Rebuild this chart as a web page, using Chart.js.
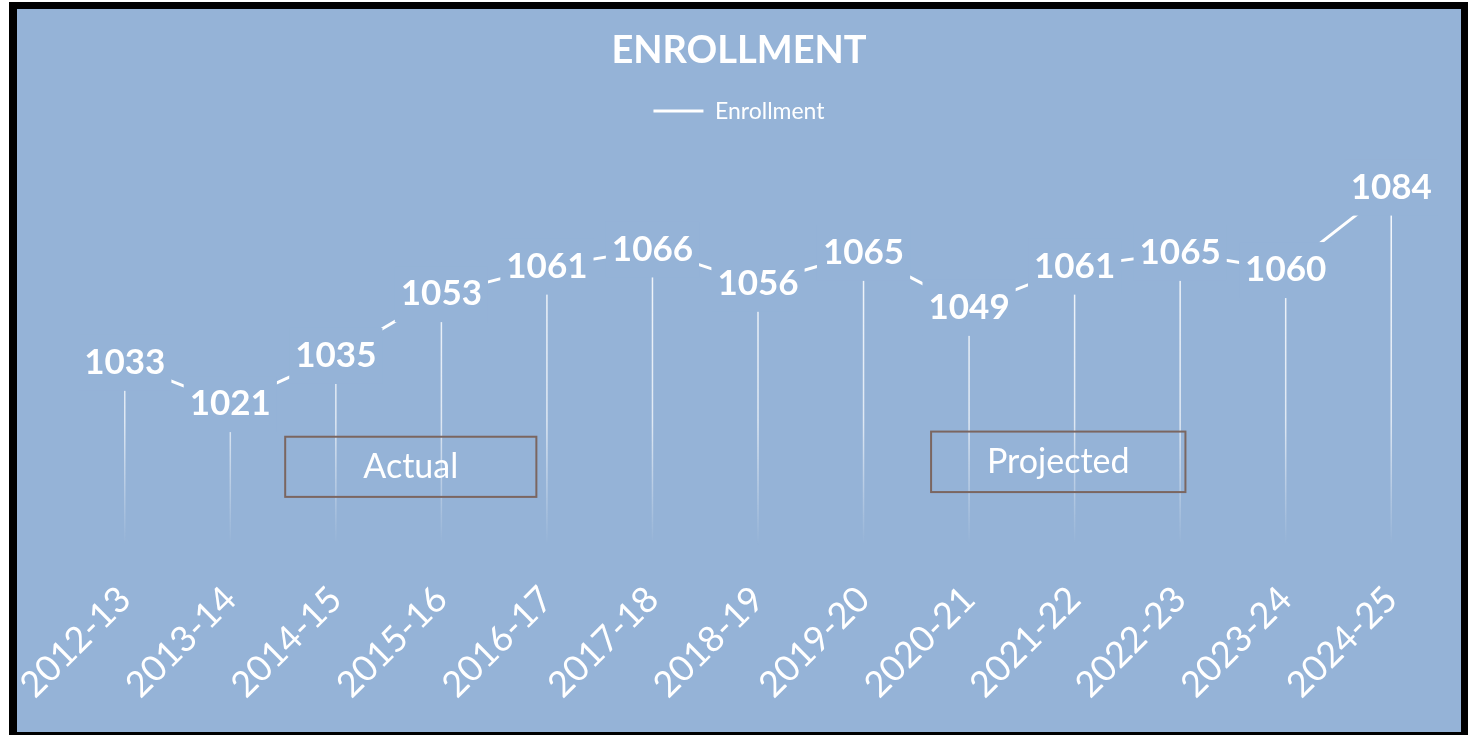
<!DOCTYPE html>
<html>
<head>
<meta charset="utf-8">
<script src="https://cdn.jsdelivr.net/npm/chart.js@4.4.1/dist/chart.umd.min.js"></script>
<style>
  body { margin: 0; background: #ffffff; }
  #frame {
    position: absolute; left: 9px; top: 2px;
    width: 1444px; height: 723px;
    border-style: solid; border-color: #000000;
    border-width: 7px 7px 3px 8px;
    background: #95b3d7;
  }
</style>
</head>
<body>
<div id="frame"><canvas id="enrollmentChart"></canvas></div>
<script>
// Enrollment by school year
const years = ['2012-13', '2013-14', '2014-15', '2015-16', '2016-17', '2017-18', '2018-19',
    '2019-20', '2020-21', '2021-22', '2022-23', '2023-24', '2024-25'];
const enrollment = [1033, 1021, 1035, 1053, 1061, 1066, 1056, 1065, 1049, 1061, 1065, 1060, 1084];
const valueMin = 980;
const valueMax = 1100;

const BG = '#95b3d7';
const FONT = 'Lato';

// Function drop lines from each point down to the axis
const dropLines = {
    id: 'dropLines',
    beforeDatasetsDraw(chart) {
        const { ctx, chartArea } = chart;
        const meta = chart.getDatasetMeta(0);
        const g = ctx.createLinearGradient(0, chartArea.top, 0, chartArea.bottom);
        g.addColorStop(0, 'rgba(255,255,255,1)');
        g.addColorStop(0.7, 'rgba(255,255,255,0.7)');
        g.addColorStop(1, 'rgba(255,255,255,0)');
        ctx.save();
        ctx.strokeStyle = g;
        ctx.lineWidth = 1.5;
        meta.data.forEach(function (pt) {
            ctx.beginPath();
            ctx.moveTo(pt.x, pt.y);
            ctx.lineTo(pt.x, chartArea.bottom);
            ctx.stroke();
        });
        ctx.restore();
    }
};

// Function value labels sitting on the points
const valueLabels = {
    id: 'valueLabels',
    afterDatasetsDraw(chart) {
        const { ctx } = chart;
        const meta = chart.getDatasetMeta(0);
        const values = chart.data.datasets[0].data;
        ctx.save();
        ctx.font = 'bold 35px ' + FONT;
        ctx.textAlign = 'center';
        ctx.textBaseline = 'middle';
        meta.data.forEach(function (pt, i) {
            const txt = String(values[i]);
            const w = ctx.measureText(txt).width;
            ctx.fillStyle = BG;
            ctx.fillRect(pt.x - w / 2 - 6, pt.y - 28, w + 12, 56);
            ctx.fillStyle = '#ffffff';
            ctx.fillText(txt, pt.x, pt.y);
        });
        ctx.restore();
    }
};

// Function Actual / Projected boxes
const periodBoxes = {
    id: 'periodBoxes',
    afterDatasetsDraw(chart, args, opts) {
        const { ctx } = chart;
        const xs = chart.scales.x;
        const ys = chart.scales.y;
        ctx.save();
        opts.boxes.forEach(function (b) {
            const x1 = xs.getPixelForValue(b.from);
            const x2 = xs.getPixelForValue(b.to);
            const y1 = ys.getPixelForValue(b.top);
            const y2 = ys.getPixelForValue(b.bottom);
            ctx.strokeStyle = '#7b6660';
            ctx.lineWidth = 2;
            ctx.strokeRect(x1, y1, x2 - x1, y2 - y1);
            ctx.fillStyle = '#ffffff';
            ctx.font = '34px ' + FONT;
            ctx.textAlign = 'center';
            ctx.textBaseline = 'middle';
            ctx.fillText(b.label, (x1 + x2) / 2, (y1 + y2) / 2);
        });
        ctx.restore();
    }
};

const ctx = document.getElementById('enrollmentChart').getContext('2d');
const enrollmentChart = new Chart(ctx, {
    type: 'line',
    data: {
        labels: years,
        datasets: [{
            label: 'Enrollment',
            data: enrollment,
            borderColor: '#ffffff',
            backgroundColor: '#ffffff',
            borderWidth: 3,
            pointRadius: 0,
            tension: 0
        }]
    },
    options: {
        responsive: true,
        maintainAspectRatio: false,
        animation: false,
        layout: {
            padding: 0
        },
        plugins: {
            title: {
                display: true,
                text: 'ENROLLMENT',
                color: '#ffffff',
                font: { family: FONT, size: 38, weight: 'bold' },
                padding: { top: 19, bottom: 14 }
            },
            legend: {
                display: true,
                position: 'top',
                labels: {
                    color: '#ffffff',
                    font: { family: FONT, size: 23 },
                    padding: 12,
                    usePointStyle: true,
                    pointStyle: 'line',
                    pointStyleWidth: 50
                }
            },
            tooltip: { enabled: false },
            periodBoxes: {
                boxes: [
                    { label: 'Actual', from: 1.52, to: 3.9, top: 1011.5, bottom: 994 },
                    { label: 'Projected', from: 7.64, to: 10.05, top: 1013, bottom: 995.4 }
                ]
            }
        },
        scales: {
            x: {
                type: 'category',
                offset: true,
                grid: { display: false, drawTicks: false },
                border: { display: false },
                ticks: {
                    color: '#ffffff',
                    font: { family: FONT, size: 36 },
                    minRotation: 45,
                    maxRotation: 45,
                    autoSkip: false,
                    padding: 33
                },
                afterFit(scale) {
                    scale.paddingLeft = 55;
                    scale.paddingRight = 17;
                    scale.height = 187;
                }
            },
            y: {
                display: false,
                min: valueMin,
                max: valueMax
            }
        }
    },
    plugins: [dropLines, valueLabels, periodBoxes]
});
</script>
</body>
</html>
